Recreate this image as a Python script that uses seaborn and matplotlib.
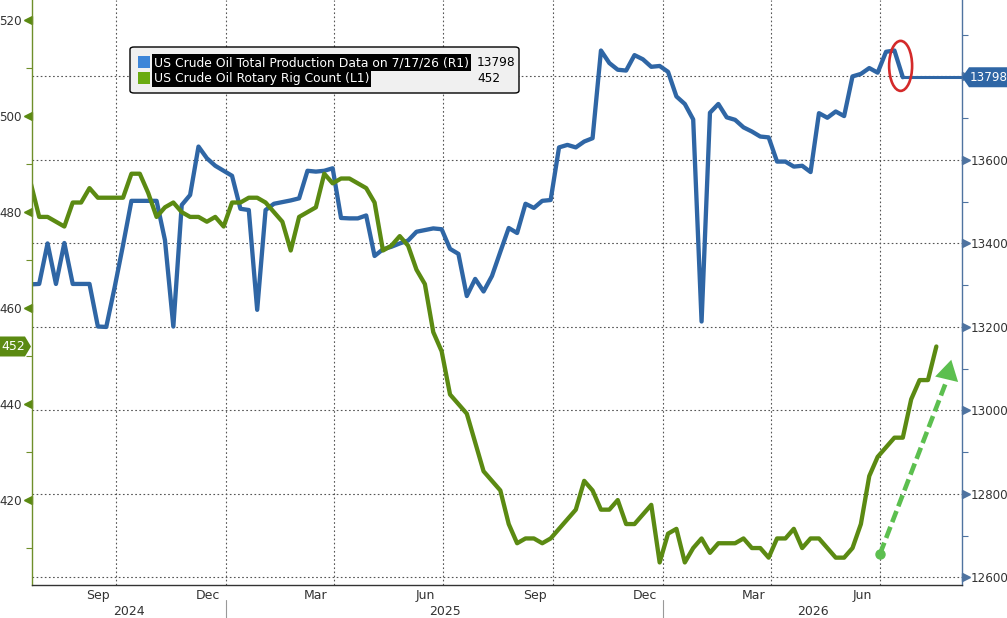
import numpy as np
import pandas as pd
import matplotlib
matplotlib.use("Agg")
import matplotlib.pyplot as plt
import matplotlib.dates as mdates
import matplotlib.transforms as mtransforms
from matplotlib.patches import Ellipse, Polygon, FancyBboxPatch, Rectangle
from matplotlib.ticker import NullFormatter
import seaborn as sns

# ---------------- data (weekly) ----------------
start_date = "2024-07-22"
production = [
    13302, 13303, 13400, 13303, 13401, 13303, 13303, 13303, 13201, 13200,
    13295, 13396, 13502, 13502, 13502, 13502, 13408, 13201, 13492, 13516,
    13632, 13604, 13586, 13574, 13562, 13483, 13480, 13241, 13480, 13495,
    13499, 13503, 13508, 13574, 13572, 13574, 13580, 13461, 13460, 13460,
    13467, 13370, 13386, 13392, 13400, 13407, 13428, 13432, 13436, 13434,
    13387, 13375, 13274, 13315, 13285, 13322, 13380, 13437, 13425, 13495,
    13485, 13502, 13504, 13630, 13636, 13630, 13644, 13652, 13862, 13832,
    13816, 13814, 13851, 13841, 13823, 13825, 13811, 13752, 13734, 13697,
    13213, 13713, 13734, 13702, 13696, 13678, 13668, 13656, 13654, 13596,
    13596, 13584, 13586, 13571, 13712, 13701, 13716, 13705, 13800, 13806,
    13820, 13809, 13859, 13862, 13798,
]
rig_count = [
    486, 479, 479, 478, 477, 482, 482, 485, 483, 483,
    483, 483, 488, 488, 484, 479, 481, 482, 480, 479,
    479, 478, 479, 477, 482, 482, 483, 483, 482, 480,
    478, 472, 479, 480, 481, 488, 486, 487, 487, 486,
    485, 482, 472, 473, 475, 473, 468, 465, 455, 451,
    442, 440, 438, 432, 426, 424, 422, 415, 411, 412,
    412, 411, 412, 414, 416, 418, 424, 422, 418, 418,
    420, 415, 415, 417, 419, 407, 413, 414, 407, 410,
    412, 409, 411, 411, 411, 412, 410, 410, 408, 412,
    412, 414, 410, 412, 412, 410, 408, 408, 410, 415,
    425, 429, 431, 433, 433, 441, 445, 445, 452,
]
prod_label = "US Crude Oil Total Production Data on 7/17/26 (R1)"
rig_label = "US Crude Oil Rotary Rig Count (L1)"
left_ticks = [420, 440, 460, 480, 500, 520]
right_ticks = [12600, 12800, 13000, 13200, 13400, 13600, 13800]
month_labels = ["Sep", "Dec", "Mar", "Jun", "Sep", "Dec", "Mar", "Jun"]
year_labels = ["2024", "2025", "2026"]

prod_dates = pd.date_range(start_date, periods=len(production), freq="7D")
rig_dates = pd.date_range(start_date, periods=len(rig_count), freq="7D")
df_prod = pd.DataFrame({"date": prod_dates, "value": production})
df_rig = pd.DataFrame({"date": rig_dates, "value": rig_count})

# ---------------- style ----------------
sns.set_style("white")
plt.rcParams["font.family"] = ["DejaVu Sans"]

BLUE = "#2f66a5"
GREEN = "#5b8a12"
OLIVE = "#6f8f2a"
RSPINE = "#4f73a0"
LGREEN = "#5cbf4f"
TXT = "#333333"

W, H = 1007, 618
fig = plt.figure(figsize=(W / 100, H / 100), dpi=100)
fig.patch.set_facecolor("white")
ax = fig.add_axes([32 / W, 1 - 585 / H, 930 / W, 585 / H])
ax2 = ax.twinx()

xmin = pd.Timestamp("2024-07-23")
xmax = pd.Timestamp("2026-09-07 10:00")

# lines
sns.lineplot(data=df_prod, x="date", y="value", ax=ax2, color=BLUE, lw=3.1)
ax2.plot([prod_dates[-1], xmax], [production[-1]] * 2, color=BLUE, lw=2.2,
         solid_capstyle="butt")
sns.lineplot(data=df_rig, x="date", y="value", ax=ax, color=GREEN, lw=3.1)

# layering: rig count (left) above production
ax.set_zorder(2)
ax2.set_zorder(1)
ax.patch.set_visible(False)

ax.set_xlim(xmin, xmax)
ax.set_ylim(402.3, 524.2)
ax2.set_ylim(12582, 13983)
for a in (ax, ax2):
    a.set_xlabel("")
    a.set_ylabel("")

# grid
grid_kw = dict(color="#555555", lw=0.8, ls=(0, (1.5, 2.2)))
for d in pd.date_range("2024-10-01", "2026-07-01", freq="QS"):
    ax2.axvline(d, zorder=0, **grid_kw)
ax2.set_yticks(right_ticks)
ax2.yaxis.grid(True, **grid_kw)
ax2.set_axisbelow(True)

# spines
for a in (ax, ax2):
    a.spines["top"].set_visible(False)
ax.spines["right"].set_visible(False)
ax2.spines["left"].set_visible(False)
ax2.spines["bottom"].set_visible(False)
ax.spines["left"].set_color(OLIVE)
ax.spines["left"].set_linewidth(1.0)
ax.spines["bottom"].set_color("#333333")
ax.spines["bottom"].set_linewidth(1.0)
ax2.spines["right"].set_color(RSPINE)
ax2.spines["right"].set_linewidth(1.0)

# y axes ticks
ax.set_yticks(left_ticks)
ax.set_yticks([t + 10 for t in left_ticks[:-1]] + [410], minor=True)
ax.tick_params(axis="y", which="major", length=0, pad=7.2, labelsize=8.6,
               labelcolor=TXT)
ax.tick_params(axis="y", which="minor", length=4, width=0.8, color=OLIVE,
               direction="out")
ax.plot(np.full(len(left_ticks), -0.0038), left_ticks, ls="none", marker="<",
        ms=5.5, color=GREEN, transform=ax.get_yaxis_transform(), clip_on=False)

ax2.set_yticklabels([str(t) if t != 13800 else "" for t in right_ticks])
ax2.set_yticks([t + 100 for t in right_ticks], minor=True)
ax2.tick_params(axis="y", which="major", length=0, pad=6.3, labelsize=8.6,
                labelcolor=TXT)
ax2.tick_params(axis="y", which="minor", length=4, width=0.8, color=RSPINE,
                direction="out")
ax2.plot(np.full(len(right_ticks), 1.0038), right_ticks, ls="none", marker=">",
         ms=5.5, color=RSPINE, transform=ax2.get_yaxis_transform(), clip_on=False)

# x axis
ax.xaxis.set_major_locator(mdates.MonthLocator())
ax.xaxis.set_major_formatter(NullFormatter())
ax.tick_params(axis="x", which="major", length=3.5, width=0.8, color="#333333",
               direction="out")
xt = ax.get_xaxis_transform()
qdates = pd.date_range("2024-10-01", "2026-07-01", freq="QS")
for d, lab in zip(qdates, month_labels):
    ax.text(d - pd.Timedelta(days=15), -0.018, lab, transform=xt, ha="center",
            va="center", fontsize=9, color=TXT)
year_starts = [pd.Timestamp("2025-01-01"), pd.Timestamp("2026-01-01")]
bounds = [xmin] + year_starts + [xmax]
for i, lab in enumerate(year_labels):
    mid = bounds[i] + (bounds[i + 1] - bounds[i]) / 2
    ax.text(mid, -0.045, lab, transform=xt, ha="center", va="center",
            fontsize=9, color=TXT)
for d in year_starts:
    ax.plot([d, d], [-0.026, -0.06], transform=xt, clip_on=False,
            color="#999999", lw=0.8)

# ---------------- value tags ----------------
def anchored(xfig, ydata, a):
    bt = mtransforms.blended_transform_factory(fig.transFigure, a.transData)
    return fig.dpi_scale_trans + mtransforms.ScaledTranslation(xfig, ydata, bt)

tg = anchored(0.0, rig_count[-1], ax)
fig.patches.append(Polygon([(0, -0.10), (0.25, -0.10), (0.31, 0), (0.25, 0.10),
                            (0, 0.10)], closed=True, transform=tg, fc=GREEN,
                           ec="none", zorder=20))
fig.text(0.13, 0, str(rig_count[-1]), transform=tg, ha="center", va="center",
         color="white", fontsize=9, zorder=21)

tb = anchored(962 / W, production[-1], ax2)
fig.patches.append(Polygon([(0.0, 0), (0.07, -0.10), (0.46, -0.10), (0.46, 0.10),
                            (0.07, 0.10)], closed=True, transform=tb, fc=BLUE,
                           ec="none", zorder=20))
fig.text(0.27, 0, str(production[-1]), transform=tb, ha="center", va="center",
         color="white", fontsize=8.6, zorder=21)

# ---------------- annotations ----------------
# red ellipse around the latest drop
cx = mdates.date2num(prod_dates[-2]) + (mdates.date2num(prod_dates[-1]) -
                                          mdates.date2num(prod_dates[-2])) / 2
cy = (production[-2] + production[-1]) / 2
et = fig.dpi_scale_trans + mtransforms.ScaledTranslation(cx, cy, ax2.transData)
fig.patches.append(Ellipse((0.02, -0.02), 0.23, 0.50, transform=et, fill=False,
                           ec="#d42a2a", lw=1.9, zorder=15))

# green dashed arrow
a_start = (pd.Timestamp("2026-07-01"), 408.8)
a_end = (pd.Timestamp("2026-08-25"), 444.5)
a_tip = (pd.Timestamp("2026-08-30"), 449.8)
ax.plot([a_start[0], a_end[0]], [a_start[1], a_end[1]], color=LGREEN, lw=3.3,
        ls=(0, (2.6, 1.1)), zorder=6)
ax.plot([a_start[0]], [a_start[1]], marker="o", ms=6.5, color=LGREEN, zorder=7)
ax.annotate("", xy=a_tip, xytext=(pd.Timestamp("2026-08-24"), 443.5),
            arrowprops=dict(arrowstyle="-|>,head_length=0.85,head_width=0.5",
                            color=LGREEN, lw=0, mutation_scale=17), zorder=7)

# ---------------- legend ----------------
def fx(x):
    return x / W

def fy(y):
    return 1 - y / H

fig.patches.append(FancyBboxPatch((fx(130), fy(93)), fx(389), 46 / H,
                                  boxstyle="round,pad=0,rounding_size=0.004",
                                  fc="#f0f0f0", ec="black", lw=1.0,
                                  transform=fig.transFigure, zorder=30))
fig.patches.append(Rectangle((fx(138), fy(68)), fx(11.5), 11.5 / H, fc="#3d85d8",
                             ec="none", transform=fig.transFigure, zorder=31))
fig.patches.append(Rectangle((fx(138), fy(84)), fx(11.5), 11.5 / H, fc="#6aab10",
                             ec="none", transform=fig.transFigure, zorder=31))
hl = dict(facecolor="black", edgecolor="none", pad=1.2)
fig.text(fx(154), fy(62.5), prod_label, color="white", fontsize=8.95,
         va="center", ha="left", bbox=hl, zorder=32)
fig.text(fx(154), fy(78.5), rig_label, color="white", fontsize=8.95,
         va="center", ha="left", bbox=hl, zorder=32)
fig.text(fx(477), fy(62.5), str(production[-1]), color="black", fontsize=8.7,
         va="center", ha="left", zorder=32)
fig.text(fx(477), fy(78.5), str(rig_count[-1]), color="black", fontsize=8.7,
         va="center", ha="left", zorder=32)

fig.savefig("out.png", dpi=100)
